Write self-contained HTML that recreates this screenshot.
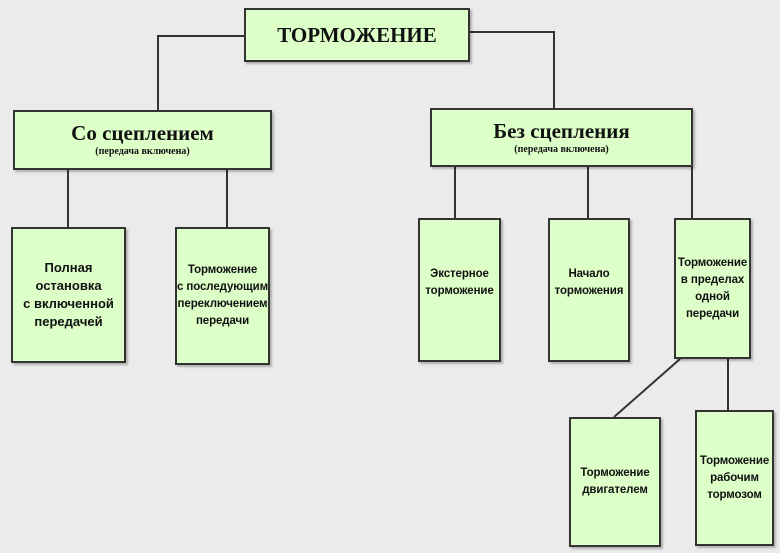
<!DOCTYPE html>
<html><head><meta charset="utf-8"><style>
body{margin:0;width:780px;height:553px;background:#ebebeb;position:relative;overflow:hidden}
.b{position:absolute;box-sizing:border-box;background:#ddffc8;border:2px solid #333;box-shadow:2px 2px 2px rgba(0,0,0,.25);display:flex;flex-direction:column;align-items:center;justify-content:center;text-align:center;color:#111;font-family:"Liberation Sans","DejaVu Sans",sans-serif;font-weight:bold}
.s{font-size:11.5px;line-height:17px;letter-spacing:-0.1px;white-space:nowrap}
.h{font-family:"Liberation Serif",serif;font-weight:bold}
svg{position:absolute;left:0;top:0}
</style></head><body>
<svg width="780" height="553"><g stroke="#333" stroke-width="2" fill="none">
<polyline points="244,36 158,36 158,110"/>
<polyline points="470,32 554,32 554,108"/>
<line x1="68" y1="170" x2="68" y2="227"/>
<line x1="227" y1="170" x2="227" y2="227"/>
<line x1="455" y1="167" x2="455" y2="218"/>
<line x1="588" y1="167" x2="588" y2="218"/>
<line x1="692" y1="167" x2="692" y2="218"/>
<line x1="680" y1="359" x2="614" y2="417"/>
<line x1="728" y1="359" x2="728" y2="410"/>
</g></svg>
<div class="b h" style="left:244px;top:8px;width:226px;height:54px;font-size:21px">ТОРМОЖЕНИЕ</div>
<div class="b h" style="left:13px;top:110px;width:259px;height:60px"><div style="font-size:21px;line-height:24px">Со сцеплением</div><div style="font-size:10px;line-height:14px">(передача включена)</div></div>
<div class="b h" style="left:430px;top:108px;width:263px;height:59px"><div style="font-size:21px;line-height:24px">Без сцепления</div><div style="font-size:10px;line-height:14px">(передача включена)</div></div>
<div class="b" style="left:11px;top:227px;width:115px;height:136px;font-size:13px;line-height:18px">Полная<br>остановка<br>с включенной<br>передачей</div>
<div class="b s" style="left:175px;top:227px;width:95px;height:138px">Торможение<br>с последующим<br>переключением<br>передачи</div>
<div class="b s" style="left:418px;top:218px;width:83px;height:144px;padding-bottom:14px">Экстерное<br>торможение</div>
<div class="b s" style="left:548px;top:218px;width:82px;height:144px;padding-bottom:14px">Начало<br>торможения</div>
<div class="b s" style="left:674px;top:218px;width:77px;height:141px">Торможение<br>в пределах<br>одной<br>передачи</div>
<div class="b s" style="left:569px;top:417px;width:92px;height:130px">Торможение<br>двигателем</div>
<div class="b s" style="left:695px;top:410px;width:79px;height:136px">Торможение<br>рабочим<br>тормозом</div>
</body></html>
